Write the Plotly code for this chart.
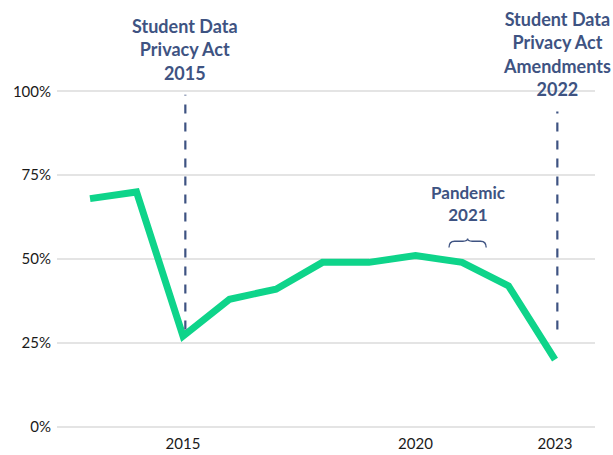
import plotly.graph_objects as go

years = [2013, 2014, 2015, 2016, 2017, 2018, 2019, 2020, 2021, 2022, 2023]
share = [68, 70, 27, 38, 41, 49, 49, 51, 49, 42, 20]
x_ticks = [2015, 2020, 2023]
y_ticks = [0, 25, 50, 75, 100]
y_tick_labels = ["0%", "25%", "50%", "75%", "100%"]

events = [
    {"x": 2015.05, "y0": 29, "y1": 99, "label": "Student Data<br>Privacy Act<br>2015", "shift": 5},
    {"x": 2023.05, "y0": 29, "y1": 94, "label": "Student Data<br>Privacy Act<br>Amendments<br>2022", "shift": -11},
]

ann_color = "#3e5382"
font_family = "Lato, 'Open Sans', sans-serif"

fig = go.Figure()
fig.add_trace(go.Scatter(
    x=years, y=share, mode="lines",
    line=dict(color="#0ed48a", width=7),
    hoverinfo="skip", showlegend=False,
))

for ev in events:
    fig.add_shape(type="line", xref="x", yref="y", x0=ev["x"], x1=ev["x"],
                  y0=ev["y0"], y1=ev["y1"],
                  line=dict(color=ann_color, width=2.2, dash="dash"))
    fig.add_annotation(x=ev["x"], y=100, xref="x", yref="y",
                       text=ev["label"], showarrow=False, yanchor="bottom",
                       yshift=ev["shift"],
                       font=dict(family=font_family, size=18, color=ann_color, weight="bold"),
                       align="center")

# Pandemic annotation with brace
fig.add_annotation(x=2021.12, y=56.5, xref="x", yref="y",
                   text="Pandemic<br>2021", showarrow=False, yanchor="bottom",
                   yshift=10,
                   font=dict(family=font_family, size=17, color=ann_color, weight="bold"),
                   align="center")
bx0, bx1, bm = 2020.72, 2021.52, 2021.12
yb, yt = 53.4, 55.3
fig.add_shape(type="path", xref="x", yref="y",
              path=(f"M {bx0},{yb} Q {bx0},{yt} {bx0+0.12},{yt} "
                    f"L {bm-0.1},{yt} Q {bm},{yt} {bm},{yt+0.8} "
                    f"Q {bm},{yt} {bm+0.1},{yt} "
                    f"L {bx1-0.12},{yt} Q {bx1},{yt} {bx1},{yb}"),
              line=dict(color=ann_color, width=1.3))

fig.update_layout(
    width=613, height=455,
    margin=dict(l=57, r=18, t=88, b=25, autoexpand=False),
    paper_bgcolor="white", plot_bgcolor="white",
    font=dict(family=font_family, size=15, color="#1a1a1a"),
    xaxis=dict(range=[2012.29, 2023.86], tickvals=x_ticks, ticktext=[str(v) for v in x_ticks],
               showgrid=False, zeroline=False, showline=False, ticks="", automargin=False,
               ticklabelstandoff=3,
               tickfont=dict(size=15, color="#1a1a1a")),
    yaxis=dict(range=[-1, 101], tickvals=y_ticks, ticktext=y_tick_labels, automargin=False,
               showgrid=True, gridcolor="#e4e4e4", gridwidth=2, zeroline=False,
               showline=False, ticks="", ticklabelstandoff=5,
               tickfont=dict(size=15, color="#1a1a1a")),
)

fig.write_html("out.html", config={"displayModeBar": False},
               post_script="document.body.style.margin='0';")
